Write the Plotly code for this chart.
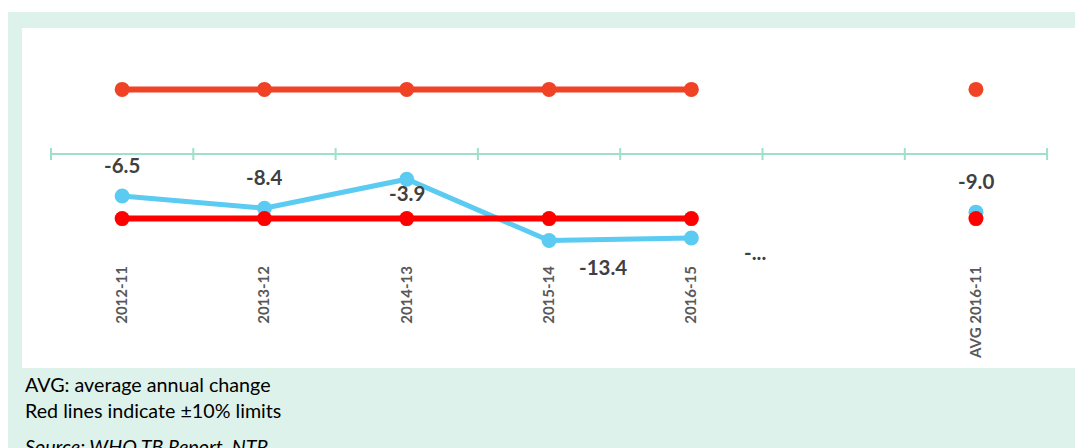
import plotly.graph_objects as go

# ---------------- data ----------------
categories = ["2012-11", "2013-12", "2014-13", "2015-14", "2016-15", "", "AVG 2016-11"]
change = [-6.5, -8.4, -3.9, -13.4, -13.0, None, -9.0]
upper_limit = [10, 10, 10, 10, 10, None, 10]
lower_limit = [-10, -10, -10, -10, -10, None, -10]
value_labels = ["-6.5", "-8.4", "-3.9", "-13.4", "-...", None, "-9.0"]
# label offsets (pixels) relative to the point
label_dx = [0, 0, 0, 54, 64, 0, 0]
label_dy = [31, 31, -14, -26, -14, 0, 31]
notes = ["AVG: average annual change", "Red lines indicate \u00b110% limits"]
source = "Source: WHO TB Report, NTP"

W, H = 1075, 448
ML, MR, MT, MB = 22, 0, 28, 80
PH = H - MT - MB
PW = W - ML - MR

GREEN = "#DDF2EA"
AXIS = "#9FE0CB"
BLUE = "#5BCBF2"
RED_UP = "#F04225"
RED_LO = "#FF0000"
LABEL = "#404040"
FONT = "Lato"

x = list(range(len(categories)))

fig = go.Figure()
fig.add_trace(go.Scatter(x=x, y=upper_limit, mode="lines+markers",
                         line=dict(color=RED_UP, width=6),
                         marker=dict(color=RED_UP, size=15),
                         connectgaps=False, hoverinfo="skip"))
fig.add_trace(go.Scatter(x=x, y=change, mode="lines+markers",
                         line=dict(color=BLUE, width=5),
                         marker=dict(color=BLUE, size=15),
                         connectgaps=False))
fig.add_trace(go.Scatter(x=x, y=lower_limit, mode="lines+markers",
                         line=dict(color=RED_LO, width=6),
                         marker=dict(color=RED_LO, size=15),
                         connectgaps=False, hoverinfo="skip"))

# data labels
for i, (v, t) in enumerate(zip(change, value_labels)):
    if v is None or t is None:
        continue
    fig.add_annotation(x=i, y=v, text=t, showarrow=False,
                       xshift=label_dx[i], yshift=label_dy[i],
                       font=dict(family=FONT, size=20.5, color=LABEL, weight="bold"))

# zero axis line with category boundary ticks
n = len(categories)
shapes = [dict(type="line", xref="x", yref="y", x0=-0.5, x1=n - 0.5, y0=0, y1=0,
               line=dict(color=AXIS, width=2), layer="below")]
for k in range(n + 1):
    shapes.append(dict(type="line", xref="x", yref="y", xsizemode="scaled",
                       ysizemode="pixel", yanchor=0, x0=k - 0.5, x1=k - 0.5,
                       y0=-6, y1=6, line=dict(color=AXIS, width=2), layer="below"))


def px_x(p):
    return (p - ML) / PW


def px_y(p):
    return (H - MB - p) / PH


# white outer strips (top and left)
shapes.append(dict(type="rect", xref="paper", yref="paper", x0=px_x(0), x1=px_x(W),
                   y0=px_y(12), y1=px_y(0), fillcolor="white", line=dict(width=0), layer="above"))
shapes.append(dict(type="rect", xref="paper", yref="paper", x0=px_x(0), x1=px_x(8),
                   y0=px_y(H), y1=px_y(0), fillcolor="white", line=dict(width=0), layer="above"))

# notes
note_y = [384, 410]
for j, t in enumerate(notes):
    fig.add_annotation(xref="paper", yref="paper", x=px_x(23), y=px_y(note_y[j]),
                       xanchor="left", yanchor="middle", text=t, showarrow=False,
                       font=dict(family=FONT, size=19.7, color="#000000"))
fig.add_annotation(xref="paper", yref="paper", x=px_x(23), y=px_y(446),
                   xanchor="left", yanchor="middle", text="<i>" + source + "</i>",
                   showarrow=False, font=dict(family=FONT, size=19.7, color="#000000"))

zero_px = 154
scale = 6.46
y_top = (zero_px - MT) / scale
y_bot = -(H - MB - zero_px) / scale
step = 142.3
x_left = -0.5 - (51 - ML) / step
x_right = x_left + PW / step

fig.update_layout(
    width=W, height=H,
    margin=dict(l=ML, r=MR, t=MT, b=MB),
    paper_bgcolor=GREEN, plot_bgcolor="white",
    showlegend=False,
    shapes=shapes,
    xaxis=dict(range=[x_left, x_right], tickvals=x, ticktext=categories,
               tickangle=-90, showgrid=False, zeroline=False, showline=False,
               ticks="", anchor="free", position=px_y(262),
               tickfont=dict(family=FONT, size=15, color="#595959", weight="bold")),
    yaxis=dict(range=[y_bot, y_top], visible=False, showgrid=False, zeroline=False),
)

fig.write_html(
    "out.html",
    config={"displayModeBar": False},
    post_script="document.body.style.margin='0';"
                "document.documentElement.style.overflow='hidden';"
                "document.body.style.overflow='hidden';",
)
